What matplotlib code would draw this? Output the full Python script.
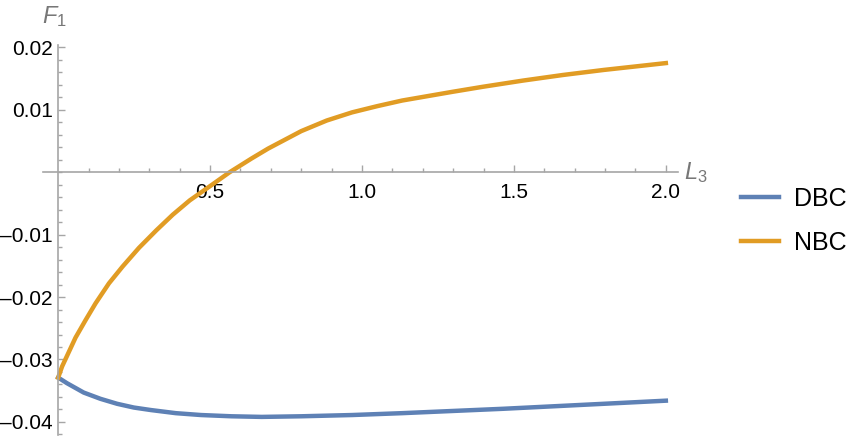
import numpy as np
import matplotlib.pyplot as plt
from matplotlib.ticker import MultipleLocator, FixedLocator

plt.rcParams['font.family'] = ['Liberation Sans', 'DejaVu Sans']
plt.rcParams['mathtext.fontset'] = 'custom'
plt.rcParams['mathtext.rm'] = 'Liberation Sans'
plt.rcParams['mathtext.it'] = 'Liberation Sans:italic'

# values
nbc_x = [0, 0.013, 0.057, 0.090, 0.123, 0.167, 0.212, 0.266, 0.323, 0.377, 0.433,
         0.509, 0.564, 0.636, 0.691, 0.80, 0.884, 0.967, 1.05, 1.132, 1.215, 1.298,
         1.397, 1.53, 1.662, 1.795, 1.907, 2.0]
nbc_y = [-0.0329, -0.0311, -0.0265, -0.0237, -0.0210, -0.0178, -0.0151, -0.0121,
         -0.0093, -0.0068, -0.0045, -0.0019, 0.0, 0.0022, 0.0038, 0.0066, 0.0083,
         0.0096, 0.0106, 0.0115, 0.0122, 0.0129, 0.0137, 0.0147, 0.0156, 0.0164,
         0.0170, 0.0175]

dbc_x = [0, 0.029, 0.084, 0.139, 0.194, 0.249, 0.305, 0.387, 0.47, 0.57, 0.67,
         0.80, 0.967, 1.132, 1.464, 1.795, 2.0]
dbc_y = [-0.0329, -0.0338, -0.0353, -0.0363, -0.0371, -0.0377, -0.0381, -0.0386,
         -0.0389, -0.0391, -0.0392, -0.0391, -0.0389, -0.0386, -0.0379, -0.0371, -0.0366]

blue = '#5E81B5'
orange = '#E19C24'
axcol = '#A6A6A6'

fig = plt.figure(figsize=(8.56, 4.46), dpi=100)
ax = fig.add_axes([43/856, 11/446, 635/856, 390/446])

ax.plot(dbc_x, dbc_y, color=blue, lw=3.2, label='DBC')
ax.plot(nbc_x, nbc_y, color=orange, lw=3.2, label='NBC')

ax.set_xlim(-0.05, 2.04)
ax.set_ylim(-0.0421, 0.0204)

# axes cross at the origin, like mathematica
ax.spines['left'].set_position(('data', 0))
ax.spines['bottom'].set_position(('data', 0))
ax.spines['right'].set_visible(False)
ax.spines['top'].set_visible(False)
for s in ['left', 'bottom']:
    ax.spines[s].set_color(axcol)
    ax.spines[s].set_linewidth(1.2)

ax.xaxis.set_major_locator(FixedLocator([0.5, 1.0, 1.5, 2.0]))
ax.xaxis.set_minor_locator(FixedLocator([x / 10 for x in range(1, 21) if x % 5 != 0]))
ax.yaxis.set_major_locator(FixedLocator([-0.04, -0.03, -0.02, -0.01, 0.01, 0.02]))
ax.yaxis.set_minor_locator(MultipleLocator(0.002))
ax.set_xticklabels(['0.5', '1.0', '1.5', '2.0'])
ax.set_yticklabels(['\u20130.04', '\u20130.03', '\u20130.02', '\u20130.01', '0.01', '0.02'])

ax.tick_params(which='both', direction='in', color=axcol, width=1, labelsize=15)
ax.tick_params(axis='x', which='major', length=5, pad=8)
ax.tick_params(axis='y', which='major', length=5, pad=4)
ax.tick_params(which='minor', length=3)

fig.text(54/856, 1 - 17/446, '$F_1$', fontsize=17, color='#777777',
         ha='center', va='center')
ax.text(2.06, 0.0, '$L_3$', fontsize=17, color='#777777', ha='left', va='center')

fig.legend(loc='center left', bbox_to_anchor=(741/856, 1 - 221/446), frameon=False,
           fontsize=18, handlelength=1.5, handletextpad=0.6, labelspacing=0.8,
           borderaxespad=0, borderpad=0)

fig.savefig('out.png', dpi=100)
